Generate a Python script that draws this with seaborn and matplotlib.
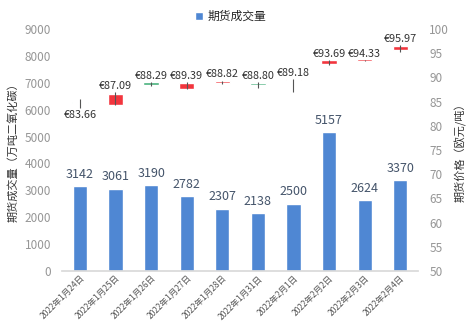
import matplotlib
matplotlib.use("Agg")
import matplotlib.pyplot as plt
import seaborn as sns
import pandas as pd
from matplotlib.patches import Patch

# ---- data ----
dates = ["2022年1月24日", "2022年1月25日", "2022年1月26日", "2022年1月27日", "2022年1月28日",
         "2022年1月31日", "2022年2月1日", "2022年2月2日", "2022年2月3日", "2022年2月4日"]
volume = [3142, 3061, 3190, 2782, 2307, 2138, 2500, 5157, 2624, 3370]
price_open = [85.0, 84.3, 89.0, 87.6, 88.8, 88.9, 89.45, 92.8, 93.4, 95.6]
price_close = [84.7, 86.6, 88.5, 88.9, 89.3, 88.4, 89.65, 93.5, 93.6, 96.4]
price_high = [85.5, 86.9, 89.0, 89.0, 89.3, 89.0, 89.65, 93.6, 93.6, 96.7]
price_low = [83.6, 84.2, 88.2, 87.5, 88.6, 87.8, 86.9, 92.5, 93.4, 95.3]
price_labels = ["€83.66", "€87.09", "€88.29", "€89.39", "€88.82", "€88.80",
                "€89.18", "€93.69", "€94.33", "€95.97"]
left_ticks = [0, 1000, 2000, 3000, 4000, 5000, 6000, 7000, 8000, 9000]
right_ticks = [50, 55, 60, 65, 70, 75, 80, 85, 90, 95, 100]

sns.set_theme(style="white")
plt.rcParams['font.family'] = ['Noto Sans CJK SC', 'DejaVu Sans']

BLUE = "#4f87d3"
RED = "#f2353d"
GREEN = "#45b07a"
TICK = "#969696"

fig = plt.figure(figsize=(4.74, 3.26), dpi=100)
ax = fig.add_axes([0.131, 0.169, 0.751, 0.742])

df = pd.DataFrame({"date": dates, "volume": volume})
sns.barplot(data=df, x="date", y="volume", color=BLUE, saturation=1, width=0.4, ax=ax)
ax.set_xlim(-0.5, len(dates) - 0.5)
ax.set_ylim(0, 9000)
ax.set_yticks(left_ticks)
ax.tick_params(axis="y", colors=TICK, labelsize=8.5, length=0, pad=8)
ax.tick_params(axis="x", length=0, pad=2)
ax.set_xticks(range(len(dates)))
ax.set_xticklabels(dates, rotation=45, ha="right", rotation_mode="anchor",
                   fontsize=6.1, color="#555555")
for s in ["top", "right", "left"]:
    ax.spines[s].set_visible(False)
ax.spines["bottom"].set_color("#d9d9d9")
ax.set_xlabel("")
ax.set_ylabel("期货成交量（万吨二氧化碳）", fontsize=8, color="#333333", labelpad=4)

for i, v in enumerate(volume):
    ax.annotate(str(v), (i, v), xytext=(0, 4), textcoords="offset points",
                ha="center", va="bottom", fontsize=9, color="#44546a")

ax2 = ax.twinx()
ax2.set_ylim(50, 100)
ax2.set_yticks(right_ticks)
ax2.tick_params(axis="y", colors=TICK, labelsize=8.5, length=0, pad=8)
for s in ["top", "right", "left", "bottom"]:
    ax2.spines[s].set_visible(False)
ax2.set_ylabel("期货价格（欧元/吨）", fontsize=8, color="#333333", labelpad=4)

xs = list(range(len(dates)))
colors = [RED if c >= o else GREEN for o, c in zip(price_open, price_close)]
bottoms = [min(o, c) for o, c in zip(price_open, price_close)]
heights = [max(abs(c - o), 0.3) for o, c in zip(price_open, price_close)]
ax2.vlines(xs, price_low, price_high, color="#555555", linewidth=0.8, zorder=3)
ax2.bar(xs, heights, bottom=bottoms, width=0.43, color=colors, zorder=2)

for i, lab in enumerate(price_labels):
    if i == 0:
        ax2.annotate(lab, (i, price_low[i]), xytext=(0, -1.5), textcoords="offset points",
                     ha="center", va="top", fontsize=7.8, color="#333333")
    else:
        ax2.annotate(lab, (i, price_high[i]), xytext=(0, 1), textcoords="offset points",
                     ha="center", va="bottom", fontsize=7.8, color="#333333")

fig.legend(handles=[Patch(facecolor=BLUE, label="期货成交量")], loc="center",
           bbox_to_anchor=(0.487, 0.95), frameon=False, fontsize=8.5,
           handlelength=0.7, handleheight=0.7, handletextpad=0.4)

fig.savefig("out.png", dpi=100)
